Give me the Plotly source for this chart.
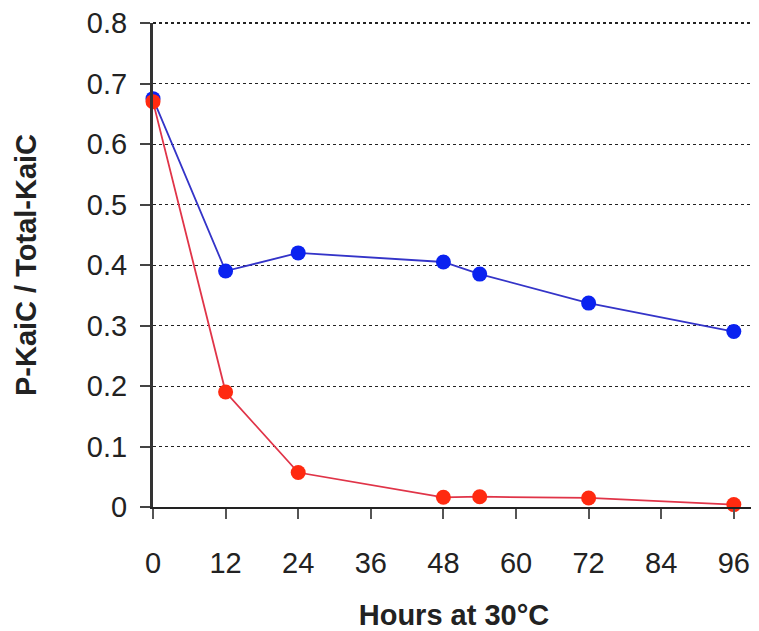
import plotly.graph_objects as go

hours = [0, 12, 24, 48, 54, 72, 96]
blue_vals = [0.675, 0.39, 0.42, 0.405, 0.385, 0.337, 0.29]
red_vals = [0.67, 0.19, 0.057, 0.016, 0.017, 0.015, 0.004]

x_ticks = [0, 12, 24, 36, 48, 60, 72, 84, 96]
y_ticks = [0, 0.1, 0.2, 0.3, 0.4, 0.5, 0.6, 0.7, 0.8]
y_tick_text = ["0", "0.1", "0.2", "0.3", "0.4", "0.5", "0.6", "0.7", "0.8"]

fig = go.Figure()
fig.add_trace(go.Scatter(
    x=hours, y=blue_vals, mode="lines+markers",
    line=dict(color="#3434c8", width=1.8),
    marker=dict(color="#0a22f0", size=15),
    showlegend=False, cliponaxis=False))
fig.add_trace(go.Scatter(
    x=hours, y=red_vals, mode="lines+markers",
    line=dict(color="#e03448", width=1.8),
    marker=dict(color="#ff2a10", size=15),
    showlegend=False, cliponaxis=False))

font_family = "Liberation Sans, Arial, sans-serif"

fig.update_layout(
    width=751, height=623,
    margin=dict(l=145, r=4, t=15, b=124),
    paper_bgcolor="white", plot_bgcolor="white",
    font=dict(family=font_family, color="#222222"),
    xaxis=dict(
        range=[0, 99.5], tickvals=x_ticks, ticktext=[str(v) for v in x_ticks],
        showgrid=False, zeroline=False, automargin=False,
        showline=True, linecolor="#222222", linewidth=2,
        ticks="outside", ticklen=10, tickwidth=2, tickcolor="#555555",
        ticklabelstandoff=19,
        tickfont=dict(size=29, family=font_family, color="#222222"),
        title=dict(text="<b>Hours at 30°C</b>", font=dict(size=29, family=font_family, color="#222222"), standoff=34),
    ),
    yaxis=dict(
        range=[0, 0.8], tickvals=y_ticks, ticktext=y_tick_text,
        showgrid=True, gridcolor="#222222", griddash="dot", gridwidth=1.2,
        zeroline=False, automargin=False,
        showline=True, linecolor="#333333", linewidth=3,
        ticks="outside", ticklen=10, tickwidth=2, tickcolor="#444444",
        ticklabelstandoff=7, ticklabeloverflow="allow",
        tickfont=dict(size=29, family=font_family, color="#222222"),
        title=dict(text="<b>P-KaiC / Total-KaiC</b>", font=dict(size=29, family=font_family, color="#222222"), standoff=42),
    ),
    shapes=[
        dict(type="line", xref="paper", yref="paper", x0=1, x1=1, y0=0, y1=1,
             line=dict(color="#444444", width=1.5)),
        dict(type="line", xref="paper", yref="paper", x0=0, x1=1, y0=1, y1=1,
             line=dict(color="#222222", width=2, dash="dot")),
    ],
)

fig.write_html("out.html")
